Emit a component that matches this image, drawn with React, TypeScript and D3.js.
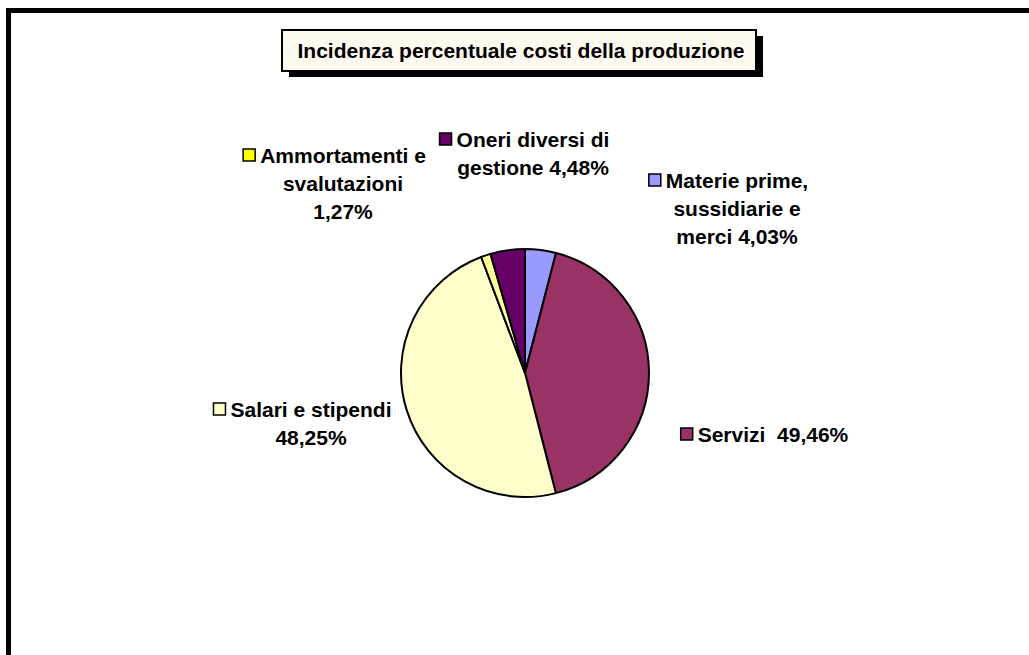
import React, { useMemo } from "react";
import * as d3 from "d3";

// ---- data ----
const categories = [
  "Materie prime, sussidiarie e merci",
  "Servizi",
  "Salari e stipendi",
  "Ammortamenti e svalutazioni",
  "Oneri diversi di gestione",
];
// slice sizes as drawn in the reference (share of the pie)
const sliceValues = [4.03, 41.97, 48.25, 1.27, 4.48];
// percentages printed in the labels
const labelPercents = ["4,03%", "49,46%", "48,25%", "1,27%", "4,48%"];
// label text broken into lines as in the reference
const labelLines = [
  ["Materie prime,", "sussidiarie e", "merci 4,03%"],
  ["Servizi  49,46%"],
  ["Salari e stipendi", "48,25%"],
  ["Ammortamenti e", "svalutazioni", "1,27%"],
  ["Oneri diversi di", "gestione 4,48%"],
];
const sliceColors = ["#9999FF", "#993366", "#FFFFCC", "#FFFF99", "#660066"];
const keyColors = ["#9999FF", "#993366", "#FFFFCC", "#FFFF00", "#660066"];
const title = "Incidenza percentuale costi della produzione";

// ---- layout (not data) ----
const W = 1029;
const H = 655;
const FONT = "'Liberation Sans', Arial, Helvetica, sans-serif";
const FS = 21;
const LINE_H = 28;
const cx = 525;
const cy = 373;
const R = 124;
// label anchors: center x of the text block, baseline of first line
const labelPos = [
  { x: 737, y: 188 },
  { x: 773, y: 442 },
  { x: 311, y: 417 },
  { x: 343, y: 163 },
  { x: 533, y: 147 },
];

function measure(text: string): number {
  const c = document.createElement("canvas").getContext("2d");
  if (!c) return text.length * FS * 0.55;
  c.font = `bold ${FS}px ${FONT}`;
  return c.measureText(text).width;
}

export default function App() {
  const arcs = useMemo(
    () =>
      d3
        .pie<number>()
        .sort(null)
        .value((d) => d)(sliceValues),
    []
  );
  const arcGen = d3.arc<d3.PieArcDatum<number>>().innerRadius(0).outerRadius(R);

  return (
    <svg
      width={W}
      height={H}
      style={{ position: "absolute", left: 0, top: 0, display: "block" }}
      fontFamily={FONT}
    >
      <rect x={0} y={0} width={W} height={H} fill="#fff" />
      <rect x={8.5} y={10.5} width={1100} height={800} fill="#fff" stroke="#000" strokeWidth={5} />

      {/* title box */}
      <rect x={289} y={36} width={474} height={41} fill="#000" />
      <rect x={282} y={30} width={474} height={41} fill="#FFFAF0" stroke="#000" strokeWidth={2} />
      <text x={521} y={58} textAnchor="middle" fontSize={FS} fontWeight="bold" fill="#000">
        {title}
      </text>

      {/* pie */}
      <g transform={`translate(${cx},${cy})`}>
        {arcs.map((a, i) => (
          <path
            key={categories[i]}
            d={arcGen(a) || ""}
            fill={sliceColors[i]}
            stroke="#000"
            strokeWidth={2}
            strokeLinejoin="round"
          />
        ))}
      </g>

      {/* labels */}
      {labelLines.map((lines, i) => {
        const p = labelPos[i];
        const w0 = measure(lines[0]);
        const kx = p.x - w0 / 2 - 17;
        return (
          <g key={categories[i]}>
            <rect
              x={kx}
              y={p.y - 14}
              width={12}
              height={12}
              fill={keyColors[i]}
              stroke="#000"
              strokeWidth={1.5}
            />
            {lines.map((ln, j) => (
              <text
                key={j}
                x={p.x}
                y={p.y + j * LINE_H}
                textAnchor="middle"
                fontSize={FS}
                fontWeight="bold"
                fill="#000"
                style={{ whiteSpace: "pre" }}
                data-pct={labelPercents[i]}
              >
                {ln}
              </text>
            ))}
          </g>
        );
      })}
    </svg>
  );
}
